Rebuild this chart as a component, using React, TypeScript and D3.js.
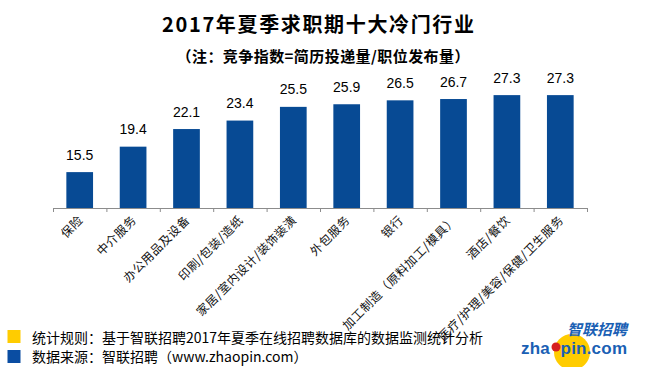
import React from 'react';
import * as d3 from 'd3';

const industries = [
  '保险',
  '中介服务',
  '办公用品及设备',
  '印刷/包装/造纸',
  '家居/室内设计/装饰装潢',
  '外包服务',
  '银行',
  '加工制造（原料加工/模具）',
  '酒店/餐饮',
  '医疗/护理/美容/保健/卫生服务',
];
const competition = [15.5, 19.4, 22.1, 23.4, 25.5, 25.9, 26.5, 26.7, 27.3, 27.3];
const yDomain = [10, 30];

const title = '2017年夏季求职期十大冷门行业';
const subtitle = '（注：竞争指数=简历投递量/职位发布量）';
const notes = [
  '统计规则：基于智联招聘2017年夏季在线招聘数据库的数据监测统计分析',
  '数据来源：智联招聘（www.zhaopin.com）',
];

const W = 655, H = 367;
const BLUE = '#074a94';
const FONT = '"Liberation Sans", "Noto Sans CJK SC", sans-serif';
const CJK = '"Noto Sans CJK SC", "Liberation Sans", sans-serif';

export default function App() {
  const left = 53, right = 587, base = 208;
  const x = d3.scaleBand<string>().domain(industries).range([left, right]).paddingInner(0.5).paddingOuter(0.25);
  const y = d3.scaleLinear().domain(yDomain).range([base, base - 6.525 * (yDomain[1] - yDomain[0])]);
  const step = (right - left) / industries.length;

  return (
    <svg width={W} height={H} style={{ position: 'absolute', left: 0, top: 0, background: '#fff' }}>
      <text x={318} y={32} textAnchor="middle" fontFamily={CJK} fontWeight="bold" fontSize={20} fill="#000"
        textLength={312} lengthAdjust="spacing">{title}</text>
      <text x={323} y={62} textAnchor="middle" fontFamily={CJK} fontWeight="bold" fontSize={15} fill="#000"
        textLength={293} lengthAdjust="spacing">{subtitle}</text>

      {competition.map((v, i) => {
        const name = industries[i];
        const bx = x(name)!;
        return (
          <g key={name}>
            <rect x={bx} y={y(v)} width={x.bandwidth()} height={base - y(v)} fill={BLUE} />
            <text x={bx + x.bandwidth() / 2} y={y(v) - 12.5} textAnchor="middle" fontFamily={FONT} fontSize={14} fill="#000">{v.toFixed(1)}</text>
          </g>
        );
      })}

      <line x1={left} x2={right} y1={base + 0.5} y2={base + 0.5} stroke="#8c8c8c" />
      {d3.range(industries.length + 1).map(i => (
        <line key={i} x1={left + i * step + 0.5} x2={left + i * step + 0.5} y1={base} y2={base + 4} stroke="#8c8c8c" />
      ))}
      {industries.map(name => {
        const cx = x(name)! + x.bandwidth() / 2 + 4;
        const cy = base + 13;
        return (
          <text key={name} x={cx} y={cy} textAnchor="end" fontFamily={CJK} fontSize={12} fill="#111"
            letterSpacing={0.5} transform={`rotate(-45 ${cx} ${cy})`}>{name}</text>
        );
      })}

      <rect x={7.5} y={330} width={13} height={13} fill="#ffcc00" />
      <rect x={7.5} y={350} width={13} height={13} fill="#0a4da2" />
      {notes.map((t, i) => (
        <text key={t} x={32} y={343 + i * 19} fontFamily={CJK} fontSize={14} fill="#000">{t}</text>
      ))}

      <g>
        <clipPath id="logo-clip"><rect x={500} y={300} width={155} height={67} /></clipPath>
        <circle cx={572} cy={352} r={18} fill="#ffcc00" clipPath="url(#logo-clip)" />
        <text x={627} y={335} textAnchor="end" fontFamily={CJK} fontWeight="bold" fontSize={15} fill="#1a5fb4" fontStyle="italic">智联招聘</text>
        <text x={521} y={354} fontFamily={FONT} fontWeight="bold" fontSize={17} fill="#1a5fb4" textLength={106}>
          {'zha'}<tspan fill="none">o</tspan>{'pin.com'}
        </text>
        <circle cx={556} cy={347} r={4.5} fill="#d62020" />
      </g>
    </svg>
  );
}
